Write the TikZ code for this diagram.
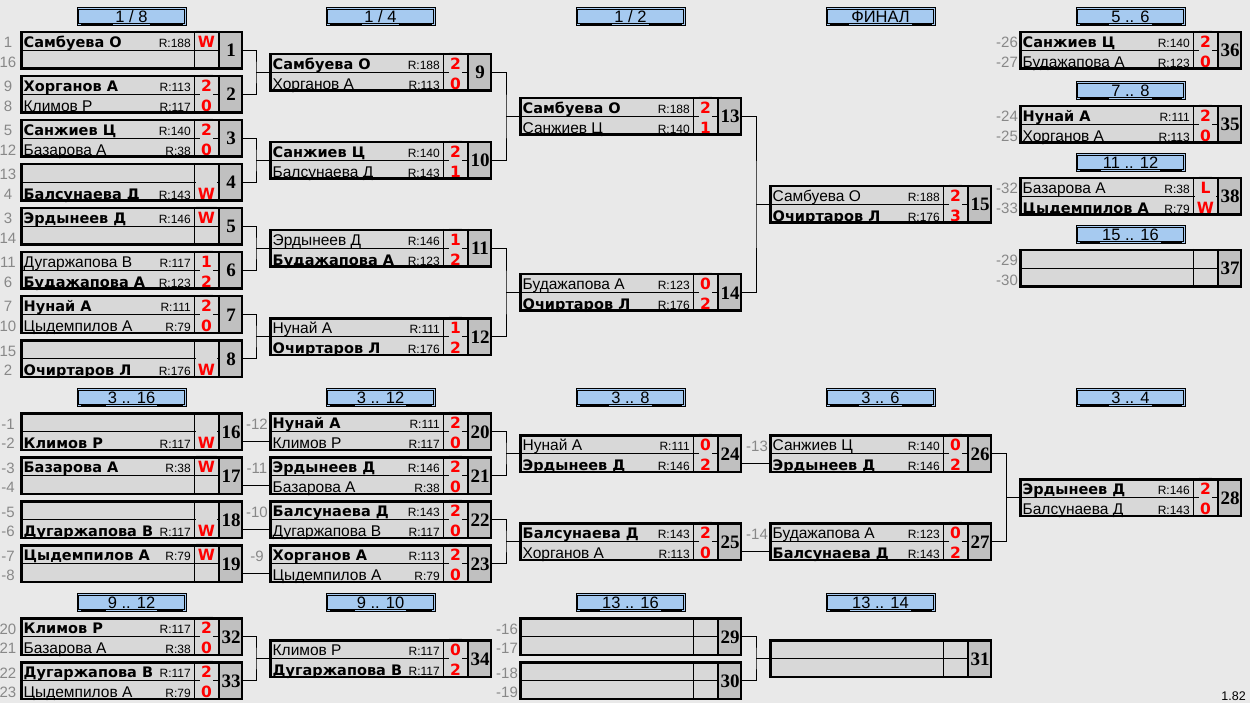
\documentclass[tikz,border=0pt]{standalone}
\usepackage{fontspec}
\setmainfont{Liberation Sans}
\newfontfamily\dv{DejaVu Sans}
\newfontfamily\lser{Liberation Serif}
\definecolor{bgc}{RGB}{233,233,233}
\definecolor{cellc}{RGB}{216,216,216}
\definecolor{numc}{RGB}{192,192,192}
\definecolor{hdc}{RGB}{166,202,240}
\definecolor{seedc}{RGB}{136,136,136}
\definecolor{scc}{RGB}{255,0,0}
\pgfdeclarelayer{back}\pgfdeclarelayer{lines}\pgfsetlayers{back,lines,main}
\tikzset{
 thinl/.style={line width=1pt,black},
 conn/.style={line width=1pt,black},
 mbox/.style={draw,line width=2.5pt,minimum width=220.5pt,minimum height=36.5pt,inner sep=0pt},
 nmn/.style={anchor=base west,inner sep=0pt,font=\fontsize{15.5}{16}\selectfont},
 nmb/.style={anchor=base west,inner sep=0pt,font=\dv\bfseries\fontsize{14.5}{16}\selectfont},
 rt/.style={anchor=base east,inner sep=0pt,font=\fontsize{12}{13}\selectfont},
 sc/.style={anchor=base,fill=cellc,inner xsep=1.5pt,inner ysep=0pt,text height=17.5pt,text depth=1.5pt,text=scc,font=\dv\bfseries\fontsize{15.5}{16}\selectfont},
 mnum/.style={anchor=base,inner sep=0pt,font=\lser\bfseries\fontsize{19}{20}\selectfont},
 seed/.style={anchor=base,inner sep=0pt,text=seedc,font=\fontsize{15}{16}\selectfont},
 hdbox/.style={fill=hdc,draw,line width=1pt,minimum width=109pt,minimum height=18pt,inner sep=0pt},
 hdt/.style={anchor=base,inner sep=0pt,font=\fontsize{16.5}{17}\selectfont},
}
\newcommand\ul{\leaders\hrule height -1.3pt depth 2.3pt\hfill}
\newcommand\R[5]{%
 \pgfmathsetmacro\ry{\cT+16.75+19.5*(#1-1)}%
 \node[nm#2] (\cN-p#1) at (\cL+3.5,\ry) {#3};%
 \ifx&#4&\else\node[rt] (\cN-q#1) at (\cL+171,\ry) {R:#4};\fi
 \ifx&#5&\else\node[sc] (\cN-c#1) at (\cL+186.5,\ry) {#5};\fi
}
\newcommand\Sd[2]{%
 \pgfmathsetmacro\ry{\cT+17+19.5*(#1-1)}%
 \node[seed] (\cN-s#1) at (\cL-12,\ry) {#2};%
}
\newcommand\M[6]{%
 \def\cN{#1}\def\cL{#2}\def\cT{#3}%
 \fill[cellc] (#2,#3) rectangle ++(199,39);
 \fill[numc] (#2+199,#3) rectangle ++(24,39);
 \draw[thinl] (#2,#3+19.5) -- ++(199,0);
 \coordinate (#1-r1) at (#2,#3+9.75);
 \coordinate (#1-r2) at (#2,#3+29.25);
 #5 #6
 \draw[thinl] (#2+174,#3) -- ++(0,39);
 \draw[line width=2.5pt] (#2+199,#3) -- ++(0,39);
 \node[mbox] (#1) at (#2+111.5,#3+19.5) {};
 \node[mnum] (#1-n) at (#2+211,#3+26) {#4};
}
\newcommand\Hd[4]{%
 \node[hdbox] (#1) at (#2+111.5,#3+9.5) {};
 \draw[thinl] ([xshift=2.2pt,yshift=-2.2pt]#1.north west) rectangle ([xshift=-2.2pt,yshift=2.2pt]#1.south east);
 \node[hdt] (#1-t) at (#2+111.5,#3+15.5) {\makebox[102pt]{\ul\kern2pt #4\kern2pt\ul}};
}
\newcommand\brk[3]{%
 \draw[conn] (#1.east) -| ([xshift=-13pt]#3.west) |- (#2.east);
 \draw[conn] ([xshift=-13pt]#3.west) -- (#3.west);
}
\begin{document}
\begin{tikzpicture}[x=1pt,y=-1pt]
\begin{pgfonlayer}{back}
\fill[bgc] (0,0) rectangle (1250,703);
\end{pgfonlayer}
\useasboundingbox (0,0) rectangle (1250,703);
% headers
\Hd{h1}{20}{7}{1 / 8}
\Hd{h2}{269}{7}{1 / 4}
\Hd{h3}{519}{7}{1 / 2}
\Hd{h4}{769}{7}{ФИНАЛ}
\Hd{h5}{1019}{7}{5 .. 6}
\Hd{h6}{1019}{81}{7 .. 8}
\Hd{h7}{1019}{153}{11 .. 12}
\Hd{h8}{1019}{225}{15 .. 16}
\Hd{h9}{20}{388}{3 .. 16}
\Hd{h10}{269}{388}{3 .. 12}
\Hd{h11}{519}{388}{3 .. 8}
\Hd{h12}{769}{388}{3 .. 6}
\Hd{h13}{1019}{388}{3 .. 4}
\Hd{h14}{20}{593}{9 .. 12}
\Hd{h15}{269}{593}{9 .. 10}
\Hd{h16}{519}{593}{13 .. 16}
\Hd{h17}{769}{593}{13 .. 14}
% top
\M{m1}{20}{31}{1}{\Sd1{1}\R1b{Самбуева О}{188}{W}}{\Sd2{16}}
\M{m2}{20}{75}{2}{\Sd1{9}\R1b{Хорганов А}{113}{2}}{\Sd2{8}\R2n{Климов Р}{117}{0}}
\M{m3}{20}{119}{3}{\Sd1{5}\R1b{Санжиев Ц}{140}{2}}{\Sd2{12}\R2n{Базарова А}{38}{0}}
\M{m4}{20}{163}{4}{\Sd1{13}}{\Sd2{4}\R2b{Балсунаева Д}{143}{W}}
\M{m5}{20}{207}{5}{\Sd1{3}\R1b{Эрдынеев Д}{146}{W}}{\Sd2{14}}
\M{m6}{20}{251}{6}{\Sd1{11}\R1n{Дугаржапова В}{117}{1}}{\Sd2{6}\R2b{Будажапова А}{123}{2}}
\M{m7}{20}{295}{7}{\Sd1{7}\R1b{Нунай А}{111}{2}}{\Sd2{10}\R2n{Цыдемпилов А}{79}{0}}
\M{m8}{20}{339}{8}{\Sd1{15}}{\Sd2{2}\R2b{Очиртаров Л}{176}{W}}
\M{m9}{269}{53}{9}{\R1b{Самбуева О}{188}{2}}{\R2n{Хорганов А}{113}{0}}
\M{m10}{269}{141}{10}{\R1b{Санжиев Ц}{140}{2}}{\R2n{Балсунаева Д}{143}{1}}
\M{m11}{269}{229}{11}{\R1n{Эрдынеев Д}{146}{1}}{\R2b{Будажапова А}{123}{2}}
\M{m12}{269}{317}{12}{\R1n{Нунай А}{111}{1}}{\R2b{Очиртаров Л}{176}{2}}
\M{m13}{519}{97}{13}{\R1b{Самбуева О}{188}{2}}{\R2n{Санжиев Ц}{140}{1}}
\M{m14}{519}{273}{14}{\R1n{Будажапова А}{123}{0}}{\R2b{Очиртаров Л}{176}{2}}
\M{m15}{769}{185}{15}{\R1n{Самбуева О}{188}{2}}{\R2b{Очиртаров Л}{176}{3}}
\M{m36}{1019}{31}{36}{\Sd1{-26}\R1b{Санжиев Ц}{140}{2}}{\Sd2{-27}\R2n{Будажапова А}{123}{0}}
\M{m35}{1019}{105}{35}{\Sd1{-24}\R1b{Нунай А}{111}{2}}{\Sd2{-25}\R2n{Хорганов А}{113}{0}}
\M{m38}{1019}{177}{38}{\Sd1{-32}\R1n{Базарова А}{38}{L}}{\Sd2{-33}\R2b{Цыдемпилов А}{79}{W}}
\M{m37}{1019}{249}{37}{\Sd1{-29}}{\Sd2{-30}}
% middle
\M{m16}{20}{412}{16}{\Sd1{-1}}{\Sd2{-2}\R2b{Климов Р}{117}{W}}
\M{m17}{20}{456}{17}{\Sd1{-3}\R1b{Базарова А}{38}{W}}{\Sd2{-4}}
\M{m18}{20}{500}{18}{\Sd1{-5}}{\Sd2{-6}\R2b{Дугаржапова В}{117}{W}}
\M{m19}{20}{544}{19}{\Sd1{-7}\R1b{Цыдемпилов А}{79}{W}}{\Sd2{-8}}
\M{m20}{269}{412}{20}{\Sd1{-12}\R1b{Нунай А}{111}{2}}{\R2n{Климов Р}{117}{0}}
\M{m21}{269}{456}{21}{\Sd1{-11}\R1b{Эрдынеев Д}{146}{2}}{\R2n{Базарова А}{38}{0}}
\M{m22}{269}{500}{22}{\Sd1{-10}\R1b{Балсунаева Д}{143}{2}}{\R2n{Дугаржапова В}{117}{0}}
\M{m23}{269}{544}{23}{\Sd1{-9}\R1b{Хорганов А}{113}{2}}{\R2n{Цыдемпилов А}{79}{0}}
\M{m24}{519}{434}{24}{\R1n{Нунай А}{111}{0}}{\R2b{Эрдынеев Д}{146}{2}}
\M{m25}{519}{522}{25}{\R1b{Балсунаева Д}{143}{2}}{\R2n{Хорганов А}{113}{0}}
\M{m26}{769}{434}{26}{\Sd1{-13}\R1n{Санжиев Ц}{140}{0}}{\R2b{Эрдынеев Д}{146}{2}}
\M{m27}{769}{522}{27}{\Sd1{-14}\R1n{Будажапова А}{123}{0}}{\R2b{Балсунаева Д}{143}{2}}
\M{m28}{1019}{478}{28}{\R1b{Эрдынеев Д}{146}{2}}{\R2n{Балсунаева Д}{143}{0}}
% bottom
\M{m32}{20}{617}{32}{\Sd1{20}\R1b{Климов Р}{117}{2}}{\Sd2{21}\R2n{Базарова А}{38}{0}}
\M{m33}{20}{661}{33}{\Sd1{22}\R1b{Дугаржапова В}{117}{2}}{\Sd2{23}\R2n{Цыдемпилов А}{79}{0}}
\M{m34}{269}{639}{34}{\R1n{Климов Р}{117}{0}}{\R2b{Дугаржапова В}{117}{2}}
\M{m29}{519}{617}{29}{\Sd1{-16}}{\Sd2{-17}}
\M{m30}{519}{661}{30}{\Sd1{-18}}{\Sd2{-19}}
\M{m31}{769}{639}{31}{}{}
\node[anchor=base east,inner sep=0pt,font=\fontsize{12.5}{13}\selectfont] (ver) at (1246,700.5) {1.82};
% connectors
\begin{pgfonlayer}{lines}
\brk{m1}{m2}{m9}
\brk{m3}{m4}{m10}
\brk{m5}{m6}{m11}
\brk{m7}{m8}{m12}
\brk{m9}{m10}{m13}
\brk{m11}{m12}{m14}
\brk{m13}{m14}{m15}
\draw[conn] (m16.east |- m20-r2) -- (m20-r2);
\draw[conn] (m17.east |- m21-r2) -- (m21-r2);
\draw[conn] (m18.east |- m22-r2) -- (m22-r2);
\draw[conn] (m19.east |- m23-r2) -- (m23-r2);
\brk{m20}{m21}{m24}
\brk{m22}{m23}{m25}
\draw[conn] (m24.east |- m26-r2) -- (m26-r2);
\draw[conn] (m25.east |- m27-r2) -- (m27-r2);
\brk{m26}{m27}{m28}
\brk{m32}{m33}{m34}
\brk{m29}{m30}{m31}
\end{pgfonlayer}
\end{tikzpicture}
\end{document}
